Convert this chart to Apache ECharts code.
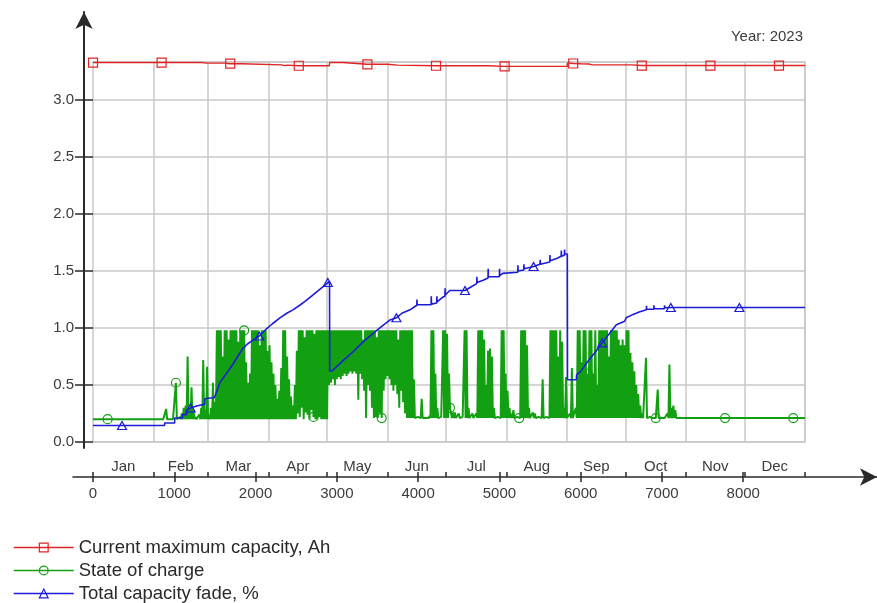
<!DOCTYPE html>
<html>
<head>
<meta charset="utf-8">
<script src="https://cdn.jsdelivr.net/npm/echarts@6/dist/echarts.min.js"></script>
<style>
  html, body { margin: 0; padding: 0; background: #ffffff; }
  #chart { width: 877px; height: 603px; }
</style>
</head>
<body>
<div id="chart"></div>
<script>
// ---- data ---------------------------------------------------------------
const monthNames = ['Jan', 'Feb', 'Mar', 'Apr', 'May', 'Jun', 'Jul', 'Aug', 'Sep', 'Oct', 'Nov', 'Dec'];
// hour of the year at which each month ends
const monthEndHours = [744, 1416, 2160, 2880, 3624, 4344, 5088, 5832, 6552, 7296, 8016, 8760];
const hourTicks = [0, 1000, 2000, 3000, 4000, 5000, 6000, 7000, 8000];
const valueTicks = [0, 0.5, 1.0, 1.5, 2.0, 2.5, 3.0];

// current maximum capacity, Ah  [hour, value]
const capacityAh = [
  [0, 3.33], [844, 3.33], [1335, 3.33], [1338, 3.325], [1400, 3.325], [1402, 3.318], [1420, 3.318],
  [1422, 3.325], [1620, 3.325], [1622, 3.32], [1688, 3.32], [1830, 3.32], [1832, 3.31], [2320, 3.31],
  [2322, 3.303], [2360, 3.303], [2362, 3.308], [2390, 3.308], [2392, 3.302], [2532, 3.302], [2905, 3.302],
  [2912, 3.33], [3070, 3.33], [3072, 3.315], [3376, 3.315], [3620, 3.315], [3622, 3.308], [3745, 3.308],
  [3748, 3.302], [4220, 3.302], [4855, 3.302], [4858, 3.297], [5064, 3.297], [5836, 3.297], [5840, 3.327],
  [5908, 3.322], [6000, 3.32], [6100, 3.318], [6136, 3.31], [6625, 3.31], [6628, 3.304], [6752, 3.304],
  [7596, 3.304], [8440, 3.304], [8760, 3.304]
];

// total capacity fade, %  [hour, value]
const capacityFadePct = [
  [0, 0.145], [357, 0.145], [880, 0.145], [882, 0.167], [1004, 0.167], [1006, 0.21], [1100, 0.21],
  [1102, 0.24], [1150, 0.24], [1152, 0.28], [1201, 0.30], [1300, 0.32], [1374, 0.33], [1376, 0.38],
  [1495, 0.39], [1530, 0.46], [1560, 0.52], [1640, 0.60], [1719, 0.68], [1780, 0.75], [1842, 0.82],
  [1900, 0.86], [1960, 0.89], [2045, 0.93], [2130, 0.99], [2212, 1.04], [2300, 1.09], [2384, 1.13],
  [2460, 1.16], [2544, 1.20], [2620, 1.24], [2704, 1.29], [2790, 1.34], [2877, 1.39], [2889, 1.40],
  [2910, 1.41], [2912, 0.62], [2950, 0.63], [3070, 0.71], [3196, 0.79], [3340, 0.89], [3492, 0.98],
  [3560, 1.02], [3652, 1.07], [3733, 1.09], [3800, 1.13], [3900, 1.16], [3984, 1.20], [3986, 1.25],
  [3988, 1.205], [4160, 1.205], [4162, 1.28], [4164, 1.21], [4229, 1.22], [4231, 1.28], [4233, 1.23],
  [4300, 1.27], [4330, 1.28], [4332, 1.35], [4334, 1.29], [4389, 1.33], [4577, 1.33], [4650, 1.36],
  [4721, 1.39], [4723, 1.45], [4725, 1.40], [4800, 1.42], [4860, 1.44], [4862, 1.52], [4864, 1.45],
  [5000, 1.45], [5002, 1.52], [5004, 1.46], [5041, 1.48], [5226, 1.49], [5228, 1.55], [5230, 1.50],
  [5300, 1.51], [5302, 1.56], [5304, 1.52], [5421, 1.54], [5500, 1.56], [5502, 1.60], [5504, 1.56],
  [5620, 1.58], [5622, 1.64], [5624, 1.59], [5705, 1.61], [5760, 1.63], [5762, 1.68], [5764, 1.63],
  [5800, 1.64], [5802, 1.69], [5804, 1.65], [5836, 1.65], [5838, 0.546], [5947, 0.546], [5949, 0.59],
  [6000, 0.62], [6080, 0.70], [6193, 0.80], [6265, 0.87], [6357, 0.955], [6439, 1.03], [6541, 1.06],
  [6560, 1.09], [6646, 1.12], [6720, 1.14], [6808, 1.16], [6810, 1.195], [6812, 1.165], [6900, 1.166],
  [6902, 1.20], [6904, 1.17], [7030, 1.17], [7032, 1.20], [7034, 1.178], [7109, 1.18], [7953, 1.18],
  [8760, 1.18]
];

// state of charge: daily peak, one value per day of the year
const socDailyPeak = [
  /* Jan */ 0.2,0.2,0.2,0.2,0.2,0.2,0.2,0.2,0.2,0.2, 0.2,0.2,0.2,0.2,0.2,0.2,0.2,0.2,0.2,0.2, 0.2,0.2,0.2,0.2,0.2,0.2,0.2,0.2,0.2,0.2, 0.2,
  /* Feb */ 0.2,0.2,0.2,0.2,0.2,0.2,0.29,0.2,0.2,0.21, 0.2,0.52,0.2,0.22,0.25,0.3,0.32,0.75,0.3,0.48, 0.28,0.22,0.2,0.24,0.3,0.72,0.28,0.66,
  /* Mar */ 0.24,0.3,0.52,0.35,0.98,0.98,0.98,0.75,0.98,0.98, 0.9,0.98,0.98,0.98,0.98,0.88,0.98,0.98,0.98,0.7, 0.52,0.6,0.98,0.98,0.98,0.98,0.85,0.98,0.98,0.98, 0.8,
  /* Apr */ 0.85,0.7,0.6,0.5,0.38,0.45,0.65,0.98,0.98,0.75, 0.55,0.4,0.32,0.5,0.8,0.98,0.98,0.98,0.92,0.98, 0.98,0.98,0.98,0.95,0.98,0.98,0.98,0.98,0.98,0.98,
  /* May */ 0.98,0.98,0.98,0.98,0.98,0.98,0.98,0.98,0.98,0.98, 0.98,0.98,0.98,0.98,0.98,0.98,0.98,0.98,0.9,0.98, 0.98,0.98,0.98,0.98,0.98,0.92,0.98,0.98,0.98,0.98, 0.98,
  /* Jun */ 0.98,0.98,0.98,0.98,0.98,0.9,0.98,0.98,0.98,0.98, 0.98,0.98,0.98,0.55,0.22,0.22,0.22,0.38,0.21,0.21, 0.21,0.23,0.98,0.98,0.6,0.3,0.22,0.22,0.98,0.98,
  /* Jul */ 0.95,0.6,0.31,0.26,0.26,0.22,0.25,0.22,0.22,0.98, 0.98,0.3,0.22,0.25,0.22,0.25,0.98,0.98,0.98,0.9, 0.5,0.8,0.82,0.75,0.3,0.22,0.22,0.22,0.98,0.98, 0.6,
  /* Aug */ 0.45,0.3,0.25,0.28,0.22,0.22,0.21,0.98,0.98,0.98, 0.85,0.3,0.22,0.26,0.25,0.22,0.22,0.22,0.55,0.22, 0.22,0.22,0.98,0.98,0.98,0.98,0.75,0.98,0.88,0.3, 0.57,
  /* Sep */ 0.22,0.25,0.65,0.22,0.3,0.98,0.98,0.7,0.98,0.98, 0.6,0.98,0.98,0.6,0.98,0.5,0.98,0.98,0.98,0.98, 0.98,0.75,0.98,0.98,0.98,0.98,0.9,0.85,0.9,0.85,
  /* Oct */ 0.98,0.98,0.78,0.7,0.62,0.5,0.42,0.32,0.25,0.22, 0.74,0.22,0.22,0.22,0.22,0.21,0.46,0.21,0.21,0.21, 0.21,0.25,0.68,0.3,0.32,0.28,0.21,0.21,0.21,0.21, 0.21,
  /* Nov */ 0.21,0.21,0.21,0.21,0.21,0.21,0.21,0.21,0.21,0.21, 0.21,0.21,0.21,0.21,0.21,0.21,0.21,0.21,0.21,0.21, 0.21,0.21,0.21,0.21,0.21,0.21,0.21,0.21,0.21,0.21,
  /* Dec */ 0.21,0.21,0.21,0.21,0.21,0.21,0.21,0.21,0.21,0.21, 0.21,0.21,0.21,0.21,0.21,0.21,0.21,0.21,0.21,0.21, 0.21,0.21,0.21,0.21,0.21,0.21,0.21,0.21,0.21,0.21, 0.21
];

// state of charge: daily trough, one value per day of the year
const socDailyLow = [
  /* Jan */ 0.2,0.2,0.2,0.2,0.2,0.2,0.2,0.2,0.2,0.2, 0.2,0.2,0.2,0.2,0.2,0.2,0.2,0.2,0.2,0.2, 0.2,0.2,0.2,0.2,0.2,0.2,0.2,0.2,0.2,0.2, 0.2,
  /* Feb */ 0.2,0.2,0.2,0.2,0.2,0.2,0.2,0.2,0.2,0.2, 0.2,0.2,0.2,0.2,0.2,0.2,0.2,0.2,0.2,0.2, 0.2,0.2,0.2,0.2,0.2,0.2,0.2,0.2,
  /* Mar */ 0.2,0.2,0.2,0.2,0.2,0.2,0.2,0.2,0.2,0.2, 0.2,0.2,0.2,0.2,0.2,0.2,0.2,0.2,0.2,0.2, 0.2,0.2,0.2,0.2,0.2,0.2,0.2,0.2,0.2,0.2, 0.2,
  /* Apr */ 0.2,0.2,0.2,0.2,0.2,0.2,0.2,0.2,0.2,0.2, 0.2,0.2,0.2,0.2,0.2,0.25,0.22,0.3,0.2,0.26, 0.24,0.2,0.28,0.22,0.2,0.2,0.22,0.2,0.2,0.2,
  /* May */ 0.2,0.5,0.52,0.55,0.5,0.55,0.57,0.55,0.58,0.6, 0.58,0.6,0.62,0.6,0.62,0.6,0.37,0.6,0.55,0.45, 0.21,0.5,0.45,0.3,0.21,0.22,0.21,0.25,0.21,0.45, 0.55,
  /* Jun */ 0.58,0.55,0.5,0.45,0.5,0.42,0.3,0.45,0.35,0.25, 0.21,0.21,0.21,0.21,0.21,0.21,0.21,0.21,0.21,0.21, 0.21,0.21,0.21,0.21,0.21,0.21,0.21,0.21,0.21,0.21,
  /* Jul */ 0.21,0.21,0.3,0.21,0.21,0.21,0.21,0.21,0.21,0.21, 0.21,0.21,0.21,0.21,0.21,0.21,0.21,0.21,0.21,0.21, 0.21,0.21,0.21,0.21,0.21,0.21,0.21,0.21,0.21,0.21, 0.21,
  /* Aug */ 0.21,0.21,0.21,0.21,0.21,0.21,0.21,0.21,0.21,0.21, 0.21,0.21,0.21,0.21,0.21,0.21,0.21,0.21,0.21,0.21, 0.21,0.21,0.21,0.21,0.21,0.21,0.21,0.21,0.21,0.21, 0.21,
  /* Sep */ 0.21,0.21,0.21,0.21,0.21,0.21,0.21,0.21,0.21,0.21, 0.21,0.21,0.21,0.21,0.21,0.21,0.21,0.21,0.21,0.21, 0.21,0.21,0.21,0.21,0.21,0.21,0.21,0.21,0.21,0.21,
  /* Oct */ 0.21,0.21,0.21,0.21,0.21,0.21,0.21,0.21,0.21,0.21, 0.21,0.21,0.21,0.21,0.21,0.21,0.21,0.21,0.21,0.21, 0.21,0.21,0.21,0.21,0.21,0.21,0.21,0.21,0.21,0.21, 0.21,
  /* Nov */ 0.21,0.21,0.21,0.21,0.21,0.21,0.21,0.21,0.21,0.21, 0.21,0.21,0.21,0.21,0.21,0.21,0.21,0.21,0.21,0.21, 0.21,0.21,0.21,0.21,0.21,0.21,0.21,0.21,0.21,0.21,
  /* Dec */ 0.21,0.21,0.21,0.21,0.21,0.21,0.21,0.21,0.21,0.21, 0.21,0.21,0.21,0.21,0.21,0.21,0.21,0.21,0.21,0.21, 0.21,0.21,0.21,0.21,0.21,0.21,0.21,0.21,0.21,0.21, 0.21
];

// hours at which each curve carries a marker symbol
const capacityMarkerHours = [0, 844, 1688, 2532, 3376, 4220, 5064, 5908, 6752, 7596, 8440];
const socMarkerHours = [169, 1013, 1857, 2701, 3545, 4389, 5233, 6077, 6921, 7765, 8609];
const fadeMarkerHours = [357, 1201, 2045, 2889, 3733, 4577, 5421, 6265, 7109, 7953];

// ---- layout & style -----------------------------------------------------
const RED = '#e02424';
const GREEN = '#12a012';
const BLUE = '#1c1cd8';
const GRID_C = '#c9c9c9';
const AXIS_C = '#2a2a2a';
const TEXT_C = '#3c3c3c';
const FONT = '"Liberation Sans", Arial, sans-serif';

const HOUR_MAX = 8760;
const Y_MAX = 3.335;
const PLOT = { left: 93, top: 62, width: 712, height: 380 };
const pxPerHour = PLOT.width / HOUR_MAX;
const pxPerUnit = PLOT.height / Y_MAX;

// detached time axis below the plot, ending in an arrow
const TIME_AXIS = { left: 73, right: 877, y: 477 };
const timeMin = -(PLOT.left - TIME_AXIS.left) / pxPerHour;
const timeMax = HOUR_MAX + (TIME_AXIS.right - (PLOT.left + PLOT.width)) / pxPerHour;

// value axis left of the plot, ending in an arrow at the top
const VALUE_AXIS = { x: 84, top: 12, bottom: 448 };
const valueMin = -(VALUE_AXIS.bottom - (PLOT.top + PLOT.height)) / pxPerUnit;
const valueMax = Y_MAX + (PLOT.top - VALUE_AXIS.top) / pxPerUnit;

const monthMidHours = monthEndHours.map((end, i) => ((i === 0 ? 0 : monthEndHours[i - 1]) + end) / 2);

// SOC curve: trough at the start of each day, peak at midday
const socPoints = [];
socDailyPeak.forEach((peak, d) => {
  socPoints.push([d * 24, socDailyLow[d]]);
  socPoints.push([d * 24 + 12, peak]);
});
socPoints.push([HOUR_MAX, socDailyLow[socDailyLow.length - 1]]);

// keep the series symbol only on the first point at or after each marker hour
function withMarkers(points, hours) {
  const marked = new Set();
  hours.forEach(h => {
    const i = points.findIndex(p => p[0] >= h);
    if (i >= 0) marked.add(i);
  });
  return points.map((p, i) => marked.has(i) ? { value: p } : { value: p, symbol: 'none' });
}

const hiddenAxis = idx => ({ gridIndex: idx, type: 'value', min: 0, max: 1, show: false });
const axisLineStyle = { color: AXIS_C, width: 1.5 };
const labelStyle = { fontSize: 15, color: TEXT_C, fontFamily: FONT };

const chart = echarts.init(document.getElementById('chart'), null, { renderer: 'canvas' });

chart.setOption({
  animation: false,
  backgroundColor: '#ffffff',
  title: {
    text: 'Year: 2023',
    right: 74, top: 29, padding: 0,
    textStyle: { fontSize: 15, fontWeight: 'normal', color: TEXT_C, fontFamily: FONT }
  },
  legend: {
    orient: 'vertical', left: 13, top: 538, padding: 0,
    itemGap: 4, itemWidth: 60, itemHeight: 11,
    selectedMode: false,
    textStyle: { fontSize: 18.5, lineHeight: 18, color: '#2a2a2a', fontFamily: FONT },
    data: [
      { name: 'Current maximum capacity, Ah',
        itemStyle: { color: 'transparent', borderColor: RED, borderWidth: 1.2 },
        lineStyle: { color: RED, width: 1.5 } },
      { name: 'State of charge',
        itemStyle: { color: 'transparent', borderColor: GREEN, borderWidth: 1.2 },
        lineStyle: { color: GREEN, width: 1.5 } },
      { name: 'Total capacity fade, %',
        itemStyle: { color: 'transparent', borderColor: BLUE, borderWidth: 1.2 },
        lineStyle: { color: BLUE, width: 1.5 } }
    ]
  },
  grid: [
    { left: PLOT.left, top: PLOT.top, width: PLOT.width, height: PLOT.height,
      show: true, borderColor: GRID_C, borderWidth: 1.5, outerBoundsMode: 'none' },
    { left: TIME_AXIS.left, top: PLOT.top, width: TIME_AXIS.right - TIME_AXIS.left,
      height: TIME_AXIS.y - PLOT.top, outerBoundsMode: 'none' },
    { left: TIME_AXIS.left, top: PLOT.top, width: TIME_AXIS.right - TIME_AXIS.left,
      height: TIME_AXIS.y - PLOT.top, outerBoundsMode: 'none' },
    { left: VALUE_AXIS.x, top: VALUE_AXIS.top, width: 10,
      height: VALUE_AXIS.bottom - VALUE_AXIS.top, outerBoundsMode: 'none' },
    { left: VALUE_AXIS.x, top: VALUE_AXIS.top, width: 10,
      height: VALUE_AXIS.bottom - VALUE_AXIS.top, outerBoundsMode: 'none' }
  ],
  xAxis: [
    { // plot time scale; vertical gridlines at month boundaries
      gridIndex: 0, type: 'value', min: 0, max: HOUR_MAX,
      axisLine: { show: false }, axisLabel: { show: false },
      axisTick: { show: false, customValues: monthEndHours },
      splitLine: { show: true, lineStyle: { color: GRID_C, width: 1.5 } }
    },
    { // time axis line, downward hour ticks and hour labels
      gridIndex: 1, type: 'value', min: timeMin, max: timeMax, position: 'bottom',
      axisLine: { show: true, symbol: ['none', 'arrow'], symbolSize: [13, 17], lineStyle: axisLineStyle },
      axisTick: { show: true, customValues: hourTicks, length: 5, lineStyle: axisLineStyle },
      axisLabel: Object.assign({ show: true, customValues: hourTicks, margin: 9,
        formatter: v => String(v) }, labelStyle),
      splitLine: { show: false }
    },
    { // upward ticks at hours and month boundaries, month names above the line
      gridIndex: 2, type: 'value', min: timeMin, max: timeMax, position: 'bottom',
      axisLine: { show: false },
      axisTick: { show: true, inside: true, customValues: hourTicks.concat([0], monthEndHours), length: 5, lineStyle: axisLineStyle },
      axisLabel: Object.assign({ show: true, inside: true, customValues: monthMidHours, margin: 3,
        formatter: v => monthNames[monthMidHours.indexOf(v)] }, labelStyle),
      splitLine: { show: false }
    },
    hiddenAxis(3),
    hiddenAxis(4)
  ],
  yAxis: [
    { // plot value scale; horizontal gridlines
      gridIndex: 0, type: 'value', min: 0, max: Y_MAX, interval: 0.5,
      axisLine: { show: false }, axisLabel: { show: false }, axisTick: { show: false },
      splitLine: { show: true, lineStyle: { color: GRID_C, width: 1.5 } }
    },
    hiddenAxis(1),
    hiddenAxis(2),
    { // value axis line, leftward ticks and labels
      gridIndex: 3, type: 'value', min: valueMin, max: valueMax, position: 'left',
      axisLine: { show: true, symbol: ['none', 'arrow'], symbolSize: [13, 17], lineStyle: { color: AXIS_C, width: 2 } },
      axisTick: { show: true, customValues: valueTicks, length: 9, lineStyle: axisLineStyle },
      axisLabel: Object.assign({ show: true, customValues: valueTicks, margin: 10,
        formatter: v => v.toFixed(1) }, labelStyle),
      splitLine: { show: false }
    },
    { // rightward ticks reaching the plot edge
      gridIndex: 4, type: 'value', min: valueMin, max: valueMax, position: 'left',
      axisLine: { show: false },
      axisTick: { show: true, inside: true, customValues: valueTicks, length: 9, lineStyle: axisLineStyle },
      axisLabel: { show: false },
      splitLine: { show: false }
    }
  ],
  series: [
    {
      name: 'State of charge', type: 'line', xAxisIndex: 0, yAxisIndex: 0,
      data: withMarkers(socPoints, socMarkerHours),
      symbol: 'circle', symbolSize: 9, showSymbol: true,
      lineStyle: { color: GREEN, width: 2 },
      itemStyle: { color: 'transparent', borderColor: GREEN, borderWidth: 1.2 },
      emphasis: { disabled: true }, silent: true, z: 2
    },
    {
      name: 'Total capacity fade, %', type: 'line', xAxisIndex: 0, yAxisIndex: 0,
      data: withMarkers(capacityFadePct, fadeMarkerHours),
      symbol: 'triangle', symbolSize: [9, 8], showSymbol: true,
      lineStyle: { color: BLUE, width: 1.6 },
      itemStyle: { color: 'transparent', borderColor: BLUE, borderWidth: 1.2 },
      emphasis: { disabled: true }, silent: true, z: 3
    },
    {
      name: 'Current maximum capacity, Ah', type: 'line', xAxisIndex: 0, yAxisIndex: 0,
      data: withMarkers(capacityAh, capacityMarkerHours),
      symbol: 'rect', symbolSize: 9, showSymbol: true,
      lineStyle: { color: RED, width: 1.4 },
      itemStyle: { color: 'transparent', borderColor: RED, borderWidth: 1.2 },
      emphasis: { disabled: true }, silent: true, z: 4
    }
  ]
});
</script>
</body>
</html>
